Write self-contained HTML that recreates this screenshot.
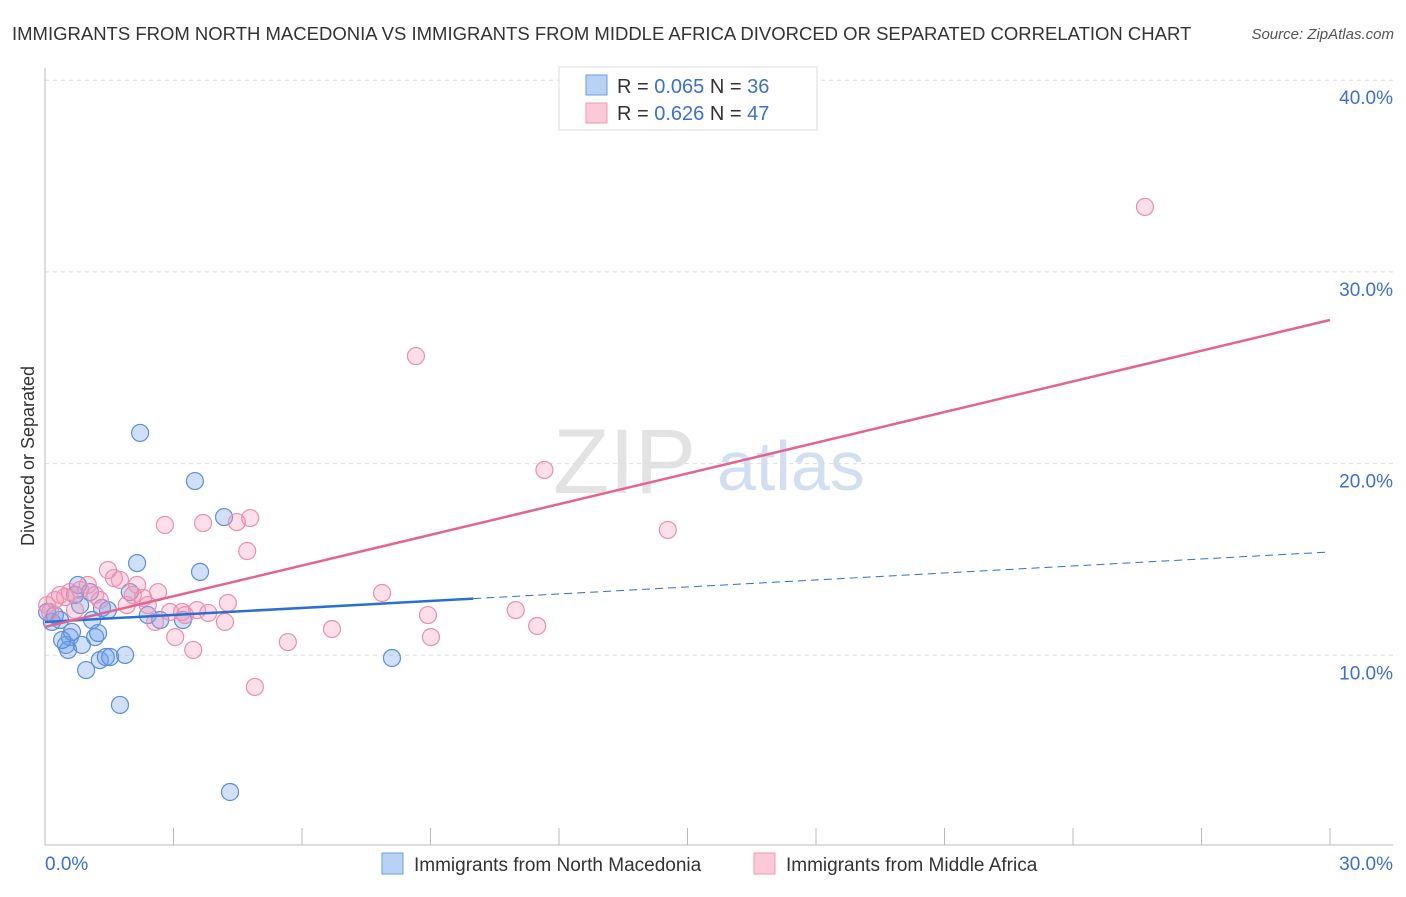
<!DOCTYPE html>
<html><head><meta charset="utf-8"><style>
body{margin:0;background:#fff;font-family:"Liberation Sans",sans-serif;}
svg text{font-family:"Liberation Sans",sans-serif;}
</style></head><body>
<svg id="chart" width="1406" height="892" xmlns="http://www.w3.org/2000/svg">
<text x="12" y="40" font-size="18.5" fill="#333">IMMIGRANTS FROM NORTH MACEDONIA VS IMMIGRANTS FROM MIDDLE AFRICA DIVORCED OR SEPARATED CORRELATION CHART</text>
<text x="1394" y="39" font-size="15" fill="#555" font-style="italic" text-anchor="end">Source: ZipAtlas.com</text>
<g>
<text x="553" y="493" font-size="92" fill="#ddd" font-family="Liberation Serif,serif" opacity="0.8">ZIP</text>
<text x="717" y="490" font-size="70" fill="#c8d8f0" opacity="0.8">atlas</text>
</g>
<g id="grid"></g>
<g id="axes"></g>
<g id="marks"></g>
<text transform="translate(34,456) rotate(-90)" font-size="18" fill="#333" text-anchor="middle">Divorced or Separated</text>
<g>
<rect x="559" y="67" width="258" height="63" fill="#fff" stroke="#ddd"/>
<rect x="586" y="75" width="21" height="20" fill="#b8d2f6" stroke="#6a9ee0"/>
<rect x="586" y="103" width="21" height="20" fill="#fbc9d7" stroke="#ee9ab4"/>
<text x="617" y="93" font-size="20" fill="#333">R = <tspan fill="#3b6fd4">0.065</tspan>   N = <tspan fill="#3b6fd4">36</tspan></text>
<text x="617" y="120" font-size="20" fill="#333">R =  <tspan fill="#3b6fd4">0.626</tspan>   N = <tspan fill="#3b6fd4">47</tspan></text>
</g>
<g>
<rect x="382" y="853" width="21" height="21" fill="#b8d2f6" stroke="#6a9ee0"/>
<text x="414" y="871" font-size="19" fill="#333">Immigrants from North Macedonia</text>
<rect x="754" y="853" width="21" height="21" fill="#fbc9d7" stroke="#ee9ab4"/>
<text x="786" y="871" font-size="19" fill="#333">Immigrants from Middle Africa</text>
</g>
</svg>
<script>
const blueX=[0.05,0.16,0.35,0.49,0.58,0.54,0.63,0.77,0.86,0.96,1.05,1.10,1.17,1.24,1.28,1.33,1.42,1.52,1.75,1.87,1.98,2.15,2.22,2.40,2.69,3.22,3.50,3.62,4.18,4.32,8.10,0.82,0.23,0.40,1.47,0.70];
const blueY=[12.26,11.74,11.84,10.54,10.95,10.28,11.22,13.67,10.54,9.23,13.30,11.84,10.95,11.16,9.75,12.47,9.91,9.91,7.41,10.02,13.30,14.81,21.60,12.10,11.84,11.84,19.09,14.35,17.21,2.87,9.86,12.62,12.10,10.80,12.36,13.15];
const pinkX=[0.05,0.12,0.23,0.35,0.47,0.58,0.70,0.82,1.00,1.17,1.28,1.47,1.61,1.75,1.91,2.05,2.15,2.29,2.40,2.57,2.64,2.80,2.92,3.04,3.20,3.27,3.46,3.55,3.69,3.81,4.27,4.20,4.48,4.72,4.79,4.90,5.67,6.70,7.87,8.66,8.94,9.01,10.99,11.49,11.66,14.54,25.68];
const pinkY=[12.62,12.26,12.88,13.15,13.04,13.30,12.36,13.41,13.67,13.15,12.88,14.45,14.03,13.93,12.62,13.15,13.67,12.99,12.62,11.74,13.30,16.80,12.26,10.95,12.26,12.10,10.28,12.36,16.90,12.21,12.73,11.74,16.95,15.44,17.16,8.35,10.69,11.37,13.25,25.61,12.10,10.95,12.36,11.53,19.67,16.54,33.39];
const blueTrend=[11.74,15.39];
const pinkTrend=[11.48,27.49];
const blueSolidEnd=10;
const yTicks=[10,20,30,40];
const yTickLabels=["10.0%","20.0%","30.0%","40.0%"];
const xTickCount=10;
const xLabels=["0.0%","30.0%"];

const NS="http://www.w3.org/2000/svg";
const X=v=>45+v*42.833;
const Y=v=>847-v*19.17;
function mk(tag,attrs,parent){const e=document.createElementNS(NS,tag);for(const k in attrs)e.setAttribute(k,attrs[k]);parent.appendChild(e);return e;}
const grid=document.getElementById('grid'),axes=document.getElementById('axes'),marks=document.getElementById('marks');
yTicks.forEach((t,i)=>{
 const l=mk('line',{x1:45,x2:1393,y1:Y(t),y2:Y(t),stroke:'#ddd','stroke-dasharray':'4,4'},grid);
 
 
 const tx=mk('text',{x:1393,y:Y(t)+24,'font-size':19,fill:'#3b6fd4','text-anchor':'end'},axes);
 tx.textContent=yTickLabels[i];
 
 
});
let a=mk('line',{x1:45,x2:45,y1:68,y2:845,stroke:'#bbb'},axes);


a=mk('line',{x1:45,x2:1393,y1:845,y2:845,stroke:'#bbb'},axes);


for(let i=0;i<=xTickCount;i++){
 const v=i*3;
 const t=mk('line',{x1:X(v),x2:X(v),y1:828,y2:845,stroke:'#bbb'},axes);
 
 
}
let t0=mk('text',{x:45,y:870,'font-size':19,fill:'#3b6fd4'},axes);t0.textContent=xLabels[0];


let t1=mk('text',{x:1393,y:870,'font-size':19,fill:'#3b6fd4','text-anchor':'end'},axes);t1.textContent=xLabels[1];



blueX.forEach((x,i)=>{const c=mk('circle',{cx:X(x),cy:Y(blueY[i]),r:8.5,fill:'rgba(110,160,235,0.32)',stroke:'#5b8fdc','stroke-width':1.2},marks);
 
 });
pinkX.forEach((x,i)=>{const c=mk('circle',{cx:X(x),cy:Y(pinkY[i]),r:8.5,fill:'rgba(245,150,180,0.3)',stroke:'#ec8fad','stroke-width':1.2},marks);
 
 });
const bAt=v=>blueTrend[0]+(blueTrend[1]-blueTrend[0])*v/30;
let l=mk('line',{x1:X(0),y1:Y(bAt(0)),x2:X(blueSolidEnd),y2:Y(bAt(blueSolidEnd)),stroke:'#2b6fd6','stroke-width':2.5},marks);


l=mk('line',{x1:X(blueSolidEnd),y1:Y(bAt(blueSolidEnd)),x2:X(29.95),y2:Y(bAt(29.95)),stroke:'#2b6fd6','stroke-width':1,'stroke-dasharray':'8,5'},marks);


l=mk('line',{x1:X(0),y1:Y(pinkTrend[0]),x2:X(30),y2:Y(pinkTrend[1]),stroke:'#e4648e','stroke-width':2.5},marks);


</script>
</body></html>
